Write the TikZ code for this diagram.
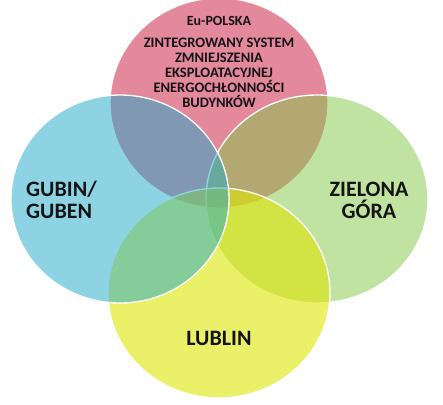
\documentclass[tikz,border=0pt]{standalone}
\usepackage{fontspec}
\setmainfont{Carlito}
\usetikzlibrary{shapes.geometric}
\definecolor{pinkbase}{RGB}{203,19,59}
\definecolor{bluebase}{RGB}{31,169,201}
\definecolor{greenbase}{RGB}{131,201,71}
\definecolor{yellowbase}{RGB}{223,230,5}
\definecolor{txt}{RGB}{20,20,20}
\tikzset{
  venn/.style={ellipse, draw=white, line width=1.3pt, inner sep=0pt, outer sep=0pt},
  lab/.style={text=txt, font=\bfseries, align=center, inner sep=0pt},
}
\begin{document}
\begin{tikzpicture}[x=1pt,y=-1pt]
\useasboundingbox (0,0) rectangle (443,404);
\fill[white] (0,0) rectangle (443,404);
\begin{scope}
\clip (0,0) rectangle (443,404);
\node[venn, fill=pinkbase, fill opacity=0.5, minimum width=218pt, minimum height=210pt] (pink) at (219,103) {};
\node[venn, fill=greenbase, fill opacity=0.5, minimum width=222pt, minimum height=208pt] (green) at (317,199) {};
\node[venn, fill=yellowbase, fill opacity=0.6, minimum width=222pt, minimum height=210pt] (yellow) at (219,293) {};
\node[venn, fill=bluebase, fill opacity=0.5, minimum width=218pt, minimum height=208pt] (blue) at (120,199) {};
\end{scope}
\node[lab, font=\bfseries\fontsize{14}{15}\selectfont] (eu) at (219,21) {Eu-POLSKA};
\node[lab, font=\bfseries\fontsize{14.5}{15}\selectfont] (proj) at (219,73) {ZINTEGROWANY SYSTEM\\ZMNIEJSZENIA\\EKSPLOATACYJNEJ\\ENERGOCHŁONNOŚCI\\BUDYNKÓW};
\node[lab, align=left, anchor=west, font=\bfseries\fontsize{22}{22}\selectfont] (gubin) at (26,200) {GUBIN/\\GUBEN};
\node[lab, font=\bfseries\fontsize{22}{22}\selectfont] (zg) at (369,200) {ZIELONA\\GÓRA};
\node[lab, font=\bfseries\fontsize{22}{22}\selectfont] (lublin) at (219,338) {LUBLIN};
\end{tikzpicture}
\end{document}
